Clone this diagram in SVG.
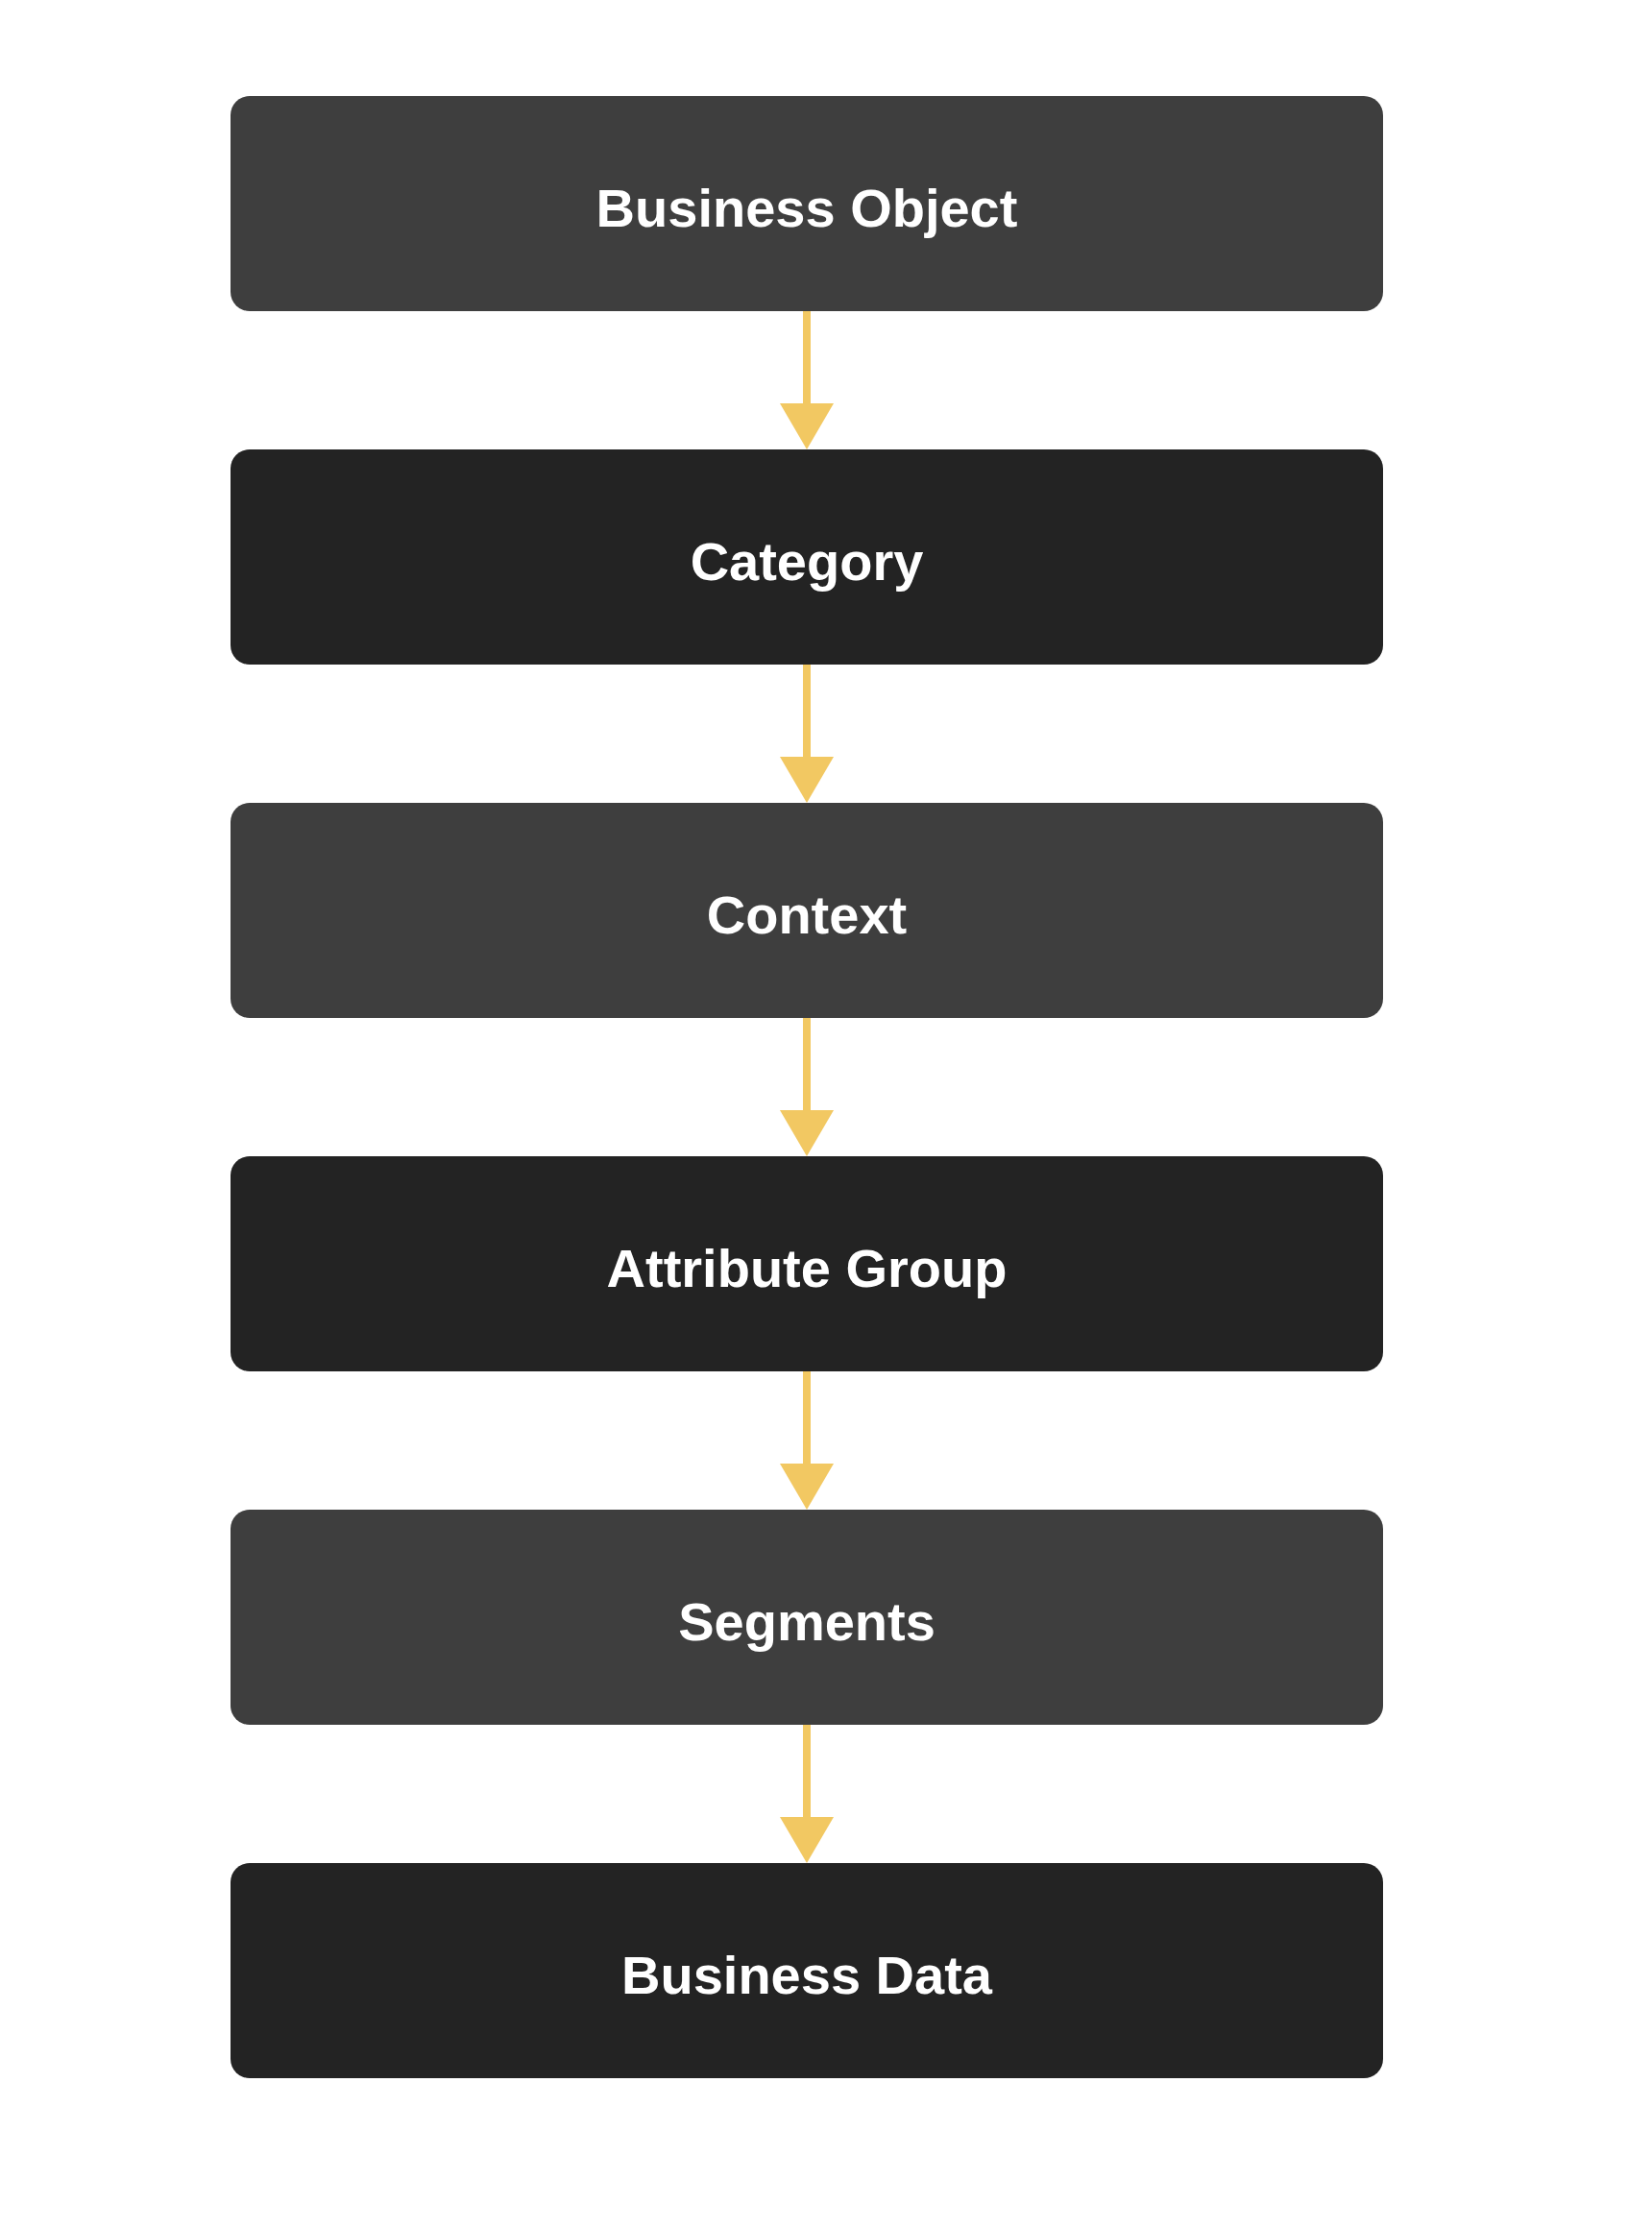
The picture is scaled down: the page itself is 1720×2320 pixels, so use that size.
<svg xmlns="http://www.w3.org/2000/svg" width="1720" height="2320" viewBox="0 0 1720 2320">
<style>
.n rect{rx:20px;ry:20px}
.a{fill:#3e3e3e}
.b{fill:#232323}
.t{font-family:"Liberation Sans",Arial,sans-serif;font-weight:bold;font-size:56px;fill:#ffffff;text-anchor:middle}
.e line{stroke:#f2c862;stroke-width:8}
.e polygon{fill:#f2c862}
</style>
<rect width="1720" height="2320" fill="#ffffff"/>
<g id="connectors" class="e">
<line x1="840" y1="324" x2="840" y2="422"/><polygon points="812,420 868,420 840,468"/>
<line x1="840" y1="692" x2="840" y2="790"/><polygon points="812,788 868,788 840,836"/>
<line x1="840" y1="1060" x2="840" y2="1158"/><polygon points="812,1156 868,1156 840,1204"/>
<line x1="840" y1="1428" x2="840" y2="1526"/><polygon points="812,1524 868,1524 840,1572"/>
<line x1="840" y1="1796" x2="840" y2="1894"/><polygon points="812,1892 868,1892 840,1940"/>
</g>
<g id="business-object" class="n"><rect class="a" x="240" y="100" width="1200" height="224"/><text class="t" x="840" y="236">Business Object</text></g>
<g id="category" class="n"><rect class="b" x="240" y="468" width="1200" height="224"/><text class="t" x="840" y="604">Category</text></g>
<g id="context" class="n"><rect class="a" x="240" y="836" width="1200" height="224"/><text class="t" x="840" y="972">Context</text></g>
<g id="attribute-group" class="n"><rect class="b" x="240" y="1204" width="1200" height="224"/><text class="t" x="840" y="1340">Attribute Group</text></g>
<g id="segments" class="n"><rect class="a" x="240" y="1572" width="1200" height="224"/><text class="t" x="840" y="1708">Segments</text></g>
<g id="business-data" class="n"><rect class="b" x="240" y="1940" width="1200" height="224"/><text class="t" x="840" y="2076">Business Data</text></g>
</svg>
